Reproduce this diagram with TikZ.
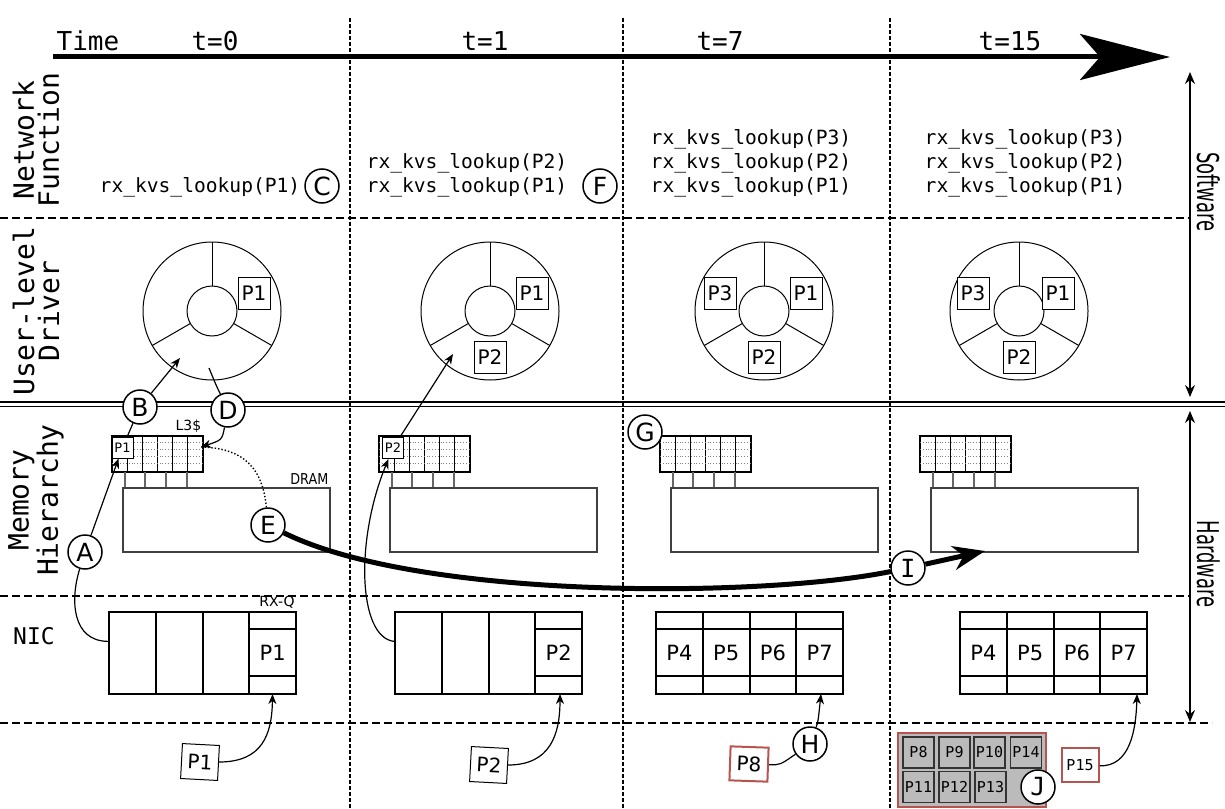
\documentclass[tikz,border=0pt]{standalone}
\usepackage{fontspec}
\setmainfont{DejaVu Sans}
\setmonofont{DejaVu Sans Mono}
\newfontfamily\narrowsans[FakeStretch=0.85]{DejaVu Sans}
\newfontfamily\sidesans[FakeStretch=0.6]{DejaVu Sans}
\usetikzlibrary{arrows.meta,positioning}
\definecolor{PoolRed}{RGB}{184,84,80}
\definecolor{PoolGrey}{RGB}{187,187,187}

\begin{document}
\begin{tikzpicture}[x=0.5pt, y=-0.5pt,
    >={Stealth[length=5pt,width=4pt,inset=1.5pt]},
    sect/.style={dash pattern=on 4pt off 2pt, line width=0.6pt},
    vsect/.style={dash pattern=on 2pt off 1pt, line width=0.6pt},
    lbl/.style={circle, draw, line width=0.75pt, fill=white, minimum size=17pt, inner sep=0pt, font=\fontsize{12.5}{12.5}\selectfont},
    pkt/.style={draw, line width=0.5pt, fill=white, minimum size=16pt, inner sep=0pt, font=\fontsize{10}{10}\selectfont},
    minipkt/.style={draw, line width=0.5pt, fill=white, minimum size=10.5pt, inner sep=0pt, font=\fontsize{6.5}{6.5}\selectfont},
    poolpkt/.style={draw=black!80, line width=0.6pt, fill=PoolGrey, minimum width=15.5pt, minimum height=15.5pt, inner sep=0pt, font=\ttfamily\fontsize{7.5}{7.5}\selectfont},
    code/.style={align=left, inner sep=0pt, font=\ttfamily\fontsize{9.8}{12}\selectfont},
    tick/.style={anchor=base, inner sep=0pt, font=\ttfamily\fontsize{13}{13}\selectfont},
    layer/.style={rotate=90, align=center, inner sep=0pt, font=\ttfamily\fontsize{14}{12.5}\selectfont},
    side/.style={rotate=-90, inner sep=0pt, font=\sidesans\fontsize{15}{15}\selectfont},
    ring/.style={line width=0.5pt},
    cachebox/.style={draw, line width=0.6pt, minimum width=45.5pt, minimum height=18pt, inner sep=0pt},
    drambox/.style={draw=black!75, line width=0.7pt, minimum width=103.5pt, minimum height=32pt, inner sep=0pt},
    queue/.style={draw, line width=1pt, minimum width=93.5pt, minimum height=41pt, inner sep=0pt},
    qline/.style={line width=1pt},
    celltxt/.style={inner sep=0pt, font=\fontsize{10.5}{10.5}\selectfont},
    tiny/.style={inner sep=1pt, font=\fontsize{7}{7}\selectfont}]
    \useasboundingbox (0,0) rectangle (1225,808);

    % Time columns
    \foreach \vx in {350,623,890}
      \draw[vsect] (\vx,18) -- (\vx,808);

    % Layers
    \draw[sect] (0,218) -- (1190,218);
    \draw[line width=0.8pt] (0,402) -- (1225,402);
    \draw[line width=0.8pt] (0,406.5) -- (1225,406.5);
    \draw[sect] (0,596) -- (1190,596);
    \draw[sect] (0,723) -- (1212,723);

    % Time axis
    \coordinate (tstart) at (53,57);
    \coordinate (tend) at (1170,57);
    \draw[line width=2.5pt, -{Stealth[length=45pt,width=23pt,inset=10pt]}] (tstart) -- (tend);
    \node[tick] (time) at (88,51) {Time};
    \node[tick] (t0) at (215,51) {t=0};
    \node[tick] (t1) at (485,51) {t=1};
    \node[tick] (t7) at (720,51) {t=7};
    \node[tick] (t15) at (1010,51) {t=15};

    % Layer names
    \node[layer] (nflbl) at (36,140) {Network\\Function};
    \node[layer] (drvlbl) at (36,311) {User-level\\Driver};
    \node[layer] (memlbl) at (36,500) {Memory\\Hierarchy};
    \node[inner sep=0pt, font=\ttfamily\fontsize{11.5}{11.5}\selectfont] (niclbl) at (34,636) {NIC};

    % Software / Hardware
    \coordinate (swtop) at (1190,72);
    \coordinate (swbot) at (1190,397);
    \coordinate (hwtop) at (1190,411);
    \coordinate (hwbot) at (1190,722);
    \draw[<->, >={Stealth[length=6pt,width=5pt,inset=2pt]}, line width=0.6pt] (swtop) -- (swbot);
    \draw[<->, >={Stealth[length=6pt,width=5pt,inset=2pt]}, line width=0.6pt] (hwtop) -- (hwbot);
    \node[side] (sw) at (1209,192) {Software};
    \node[side] (hw) at (1209,564) {Hardware};

    % Network function calls
    \node[code] (nf0) at (200,187) {rx\_kvs\_lookup(P1)};
    \node[code] (nf1) at (467,175) {rx\_kvs\_lookup(P2)\\rx\_kvs\_lookup(P1)};
    \node[code] (nf2) at (751,163.5) {rx\_kvs\_lookup(P3)\\rx\_kvs\_lookup(P2)\\rx\_kvs\_lookup(P1)};
    \node[code] (nf3) at (1025,163.5) {rx\_kvs\_lookup(P3)\\rx\_kvs\_lookup(P2)\\rx\_kvs\_lookup(P1)};
    \node[lbl] (C) at (322,186) {C};
    \node[lbl] (F) at (600,186) {F};

    % Rings
    \foreach \cx in {212,490,764,1019} {
      \begin{scope}[shift={(\cx,311)}]
        \draw[ring] (0,0) circle[radius=69];
        \draw[ring] (0,0) circle[radius=25];
        \foreach \a in {270,30,150}
          \draw[ring] (\a:25) -- (\a:69);
      \end{scope}
    }
    \node[pkt] (r0p1) at (254,293) {P1};
    \node[pkt] (r1p1) at (532,293) {P1};
    \node[pkt] (r1p2) at (490,357) {P2};
    \node[pkt] (r2p3) at (720,293) {P3};
    \node[pkt] (r2p1) at (806,293) {P1};
    \node[pkt] (r2p2) at (764,357) {P2};
    \node[pkt] (r3p3) at (973,293) {P3};
    \node[pkt] (r3p1) at (1058,293) {P1};
    \node[pkt] (r3p2) at (1019,357) {P2};

    % Caches and DRAM
    \foreach \ox [count=\i from 0] in {0,267,548,808} {
      \node[cachebox] (cache\i) at ({157.5+\ox},454) {};
      \foreach \k in {1,...,5}
        \draw[line width=0.5pt] ({112+\ox+15.17*\k},436) -- ++(0,36);
      \foreach \yy in {442,449,456,463}
        \draw[gray, densely dotted, line width=0.4pt] ({112+\ox},\yy) -- ++(91,0);
      \foreach \cx in {125,145,166,187}
        \draw[black!60, line width=0.6pt] ({\cx+\ox},472) -- ++(0,16);
      \node[drambox] (dram\i) at ({226.5+\ox},520) {};
    }
    \node[tiny, anchor=south east] (l3lbl) at (cache0.north east) {L3\$};
    \node[tiny, anchor=south east, font=\narrowsans\fontsize{7.5}{7.5}\selectfont] (dramlbl) at (dram0.north east) {DRAM};
    \node[minipkt] (c0p1) at (122.5,447.5) {P1};
    \node[minipkt] (c1p2) at (393,448) {P2};

    % NIC queues
    \node[queue] (q0) at (202.5,653) {};
    \node[queue] (q1) at (488.5,653) {};
    \node[queue] (q2) at (749.5,653) {};
    \node[queue] (q3) at (1053.5,653) {};
    \foreach \xl in {109,395,656,960}
      \foreach \k in {1,2,3}
        \draw[qline] ({\xl+46.75*\k},612) -- ++(0,82);
    \foreach \xl in {249.25,535.25}
      \foreach \yy in {629,676}
        \draw[line width=0.7pt] (\xl,\yy) -- ++(46.75,0);
    \foreach \xl in {656,960}
      \foreach \yy in {629,676}
        \draw[line width=0.7pt] (\xl,\yy) -- ++(187,0);
    \node[tiny, anchor=south east] (rxq) at (q0.north east) {RX-Q};
    \node[celltxt] (q0c3) at (272.6,653) {P1};
    \node[celltxt] (q1c3) at (558.6,653) {P2};
    \foreach \n [count=\k from 0] in {P4,P5,P6,P7} {
      \node[celltxt] (q2c\k) at ({656+23.4+46.75*\k},653) {\n};
      \node[celltxt] (q3c\k) at ({960+23.4+46.75*\k},653) {\n};
    }

    % Incoming packets
    \node[pkt, rotate=-3, minimum width=18.5pt, minimum height=17.5pt] (in0) at (200,762) {P1};
    \node[pkt, rotate=-3, minimum width=18.5pt, minimum height=17.5pt] (in1) at (489,765) {P2};
    \node[pkt, rotate=-2, draw=PoolRed, line width=1pt, minimum width=19pt, minimum height=17pt] (in2) at (749,764) {P8};
    \node[draw=PoolRed, line width=1pt, fill=PoolGrey, minimum width=74pt, minimum height=37pt, inner sep=0pt] (pool) at (972,770) {};
    \node[poolpkt] (pk8) at (918.5,752.5) {P8};
    \node[poolpkt] (pk9) at (954.5,752.5) {P9};
    \node[poolpkt] (pk10) at (989.5,752.5) {P10};
    \node[poolpkt] (pk14) at (1026,752.5) {P14};
    \node[poolpkt] (pk11) at (918.5,787) {P11};
    \node[poolpkt] (pk12) at (954.5,787) {P12};
    \node[poolpkt] (pk13) at (990.5,787) {P13};
    \node[pkt, draw=PoolRed, line width=1pt, minimum width=18.5pt, minimum height=17pt, font=\ttfamily\fontsize{7.5}{7.5}\selectfont] (in3) at (1080,765) {P15};

    % Step labels
    \node[lbl] (A) at (85,552) {A};
    \node[lbl] (B) at (140,407) {B};
    \node[lbl] (D) at (228,410) {D};
    \node[lbl] (E) at (268,525) {E};
    \node[lbl] (G) at (645,432) {G};
    \node[lbl] (H) at (810,744) {H};
    \node[lbl, font=\ttfamily\fontsize{12.5}{12.5}\selectfont] (I) at (908,568) {I};
    \node[lbl, font=\ttfamily\fontsize{12.5}{12.5}\selectfont] (J) at (1038,787) {J};

    % Arrow end points
    \coordinate (r0in) at (180,358);
    \coordinate (r0out) at (209,368);
    \coordinate (r1in) at (453,354);
    \coordinate (l3in) at (201,447);
    \coordinate (q0tip) at (272.5,694);
    \coordinate (q1tip) at (560,694);
    \coordinate (q2tip) at (821,694);
    \coordinate (q3tip) at (1137,694);
    \coordinate (dramin) at (985,551);

    % t=0 flow
    \draw[->, line width=0.6pt] (in0) .. controls (262,762) and (272,735) .. (q0tip);
    \draw[->, line width=0.6pt] (q0.173) .. controls (72,641) and (70,600) .. (A) -- (c0p1);
    \draw[->, line width=0.6pt] (c0p1) -- (B) -- (r0in);
    \draw[->, line width=0.6pt] (r0out) .. controls (216,385) .. (D) .. controls (222,440) .. (l3in);
    \draw[densely dotted, line width=0.7pt] (E) .. controls (262,460) and (235,448) .. (l3in);
    \draw[line width=2.5pt, -{Stealth[length=16pt,width=12pt,inset=5pt]}] (E) .. controls (420,600) and (760,598) .. (I) -- (dramin);

    % t=1 flow
    \draw[->, line width=0.6pt] (in1) .. controls (550,765) and (560,735) .. (q1tip);
    \draw[->, line width=0.6pt] (q1.173) .. controls (358,637) and (355,540) .. (c1p2);
    \draw[->, line width=0.6pt] (c1p2) -- (r1in);

    % t=7 and t=15 arrivals
    \draw[line width=0.6pt] (in2) .. controls (780,765) .. (H);
    \draw[->, line width=0.6pt] (H) .. controls (818,722) .. (q2tip);
    \draw[->, line width=0.6pt] (in3) .. controls (1130,767) and (1136,730) .. (q3tip);
  \end{tikzpicture}
\end{document}
